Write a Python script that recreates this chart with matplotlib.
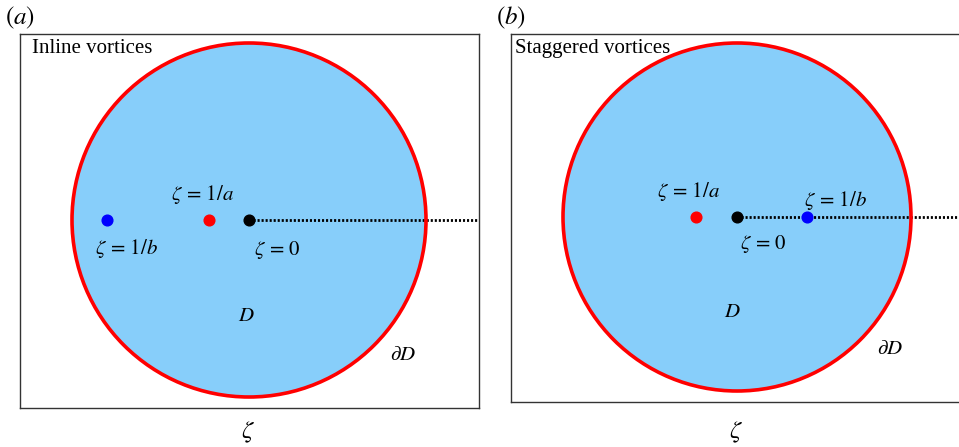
import numpy as np
import matplotlib.pyplot as plt
from matplotlib.patches import Circle

plt.rcParams['mathtext.fontset'] = 'stix'
plt.rcParams['font.family'] = ['Liberation Serif', 'DejaVu Serif']

W, H = 959, 447

# vortex positions on the real axis of the zeta-plane (unit disc)
inline_a = -0.226
inline_b = -0.80
staggered_a = -0.236
staggered_b = 0.40
origin = 0.0

titles = ["Inline vortices", "Staggered vortices"]
panel_tags = ["$(a)$", "$(b)$"]


def add_panel(fig, box, centre, radius, tag, title, title_x, pt_a, pt_b, labels):
    """Draw one zeta-plane panel; box = (left, top, right, bottom) in pixels."""
    l, t, r, b = box
    ax = fig.add_axes([l / W, 1 - b / H, (r - l) / W, (b - t) / H])
    cx, cy = centre
    ax.set_xlim((l - cx) / radius, (r - cx) / radius)
    ax.set_ylim(-(b - cy) / radius, (cy - t) / radius)
    ax.set_aspect('equal')
    ax.set_xticks([])
    ax.set_yticks([])
    for s in ax.spines.values():
        s.set_color('#333333')
        s.set_linewidth(1.0)

    ax.add_patch(Circle((0, 0), 1.0, facecolor='#87cefa', edgecolor='none', zorder=1))
    ax.add_patch(Circle((0, 0), 1.0, facecolor='none', edgecolor='#ff0000', lw=2.6, zorder=4))

    # branch cut along the positive real axis
    ax.plot([origin, 5], [0, 0], color='black', ls=(0, (0.75, 0.7)), lw=2.0, zorder=3)

    ax.plot(pt_b, 0, 'o', color='#0000ff', ms=7.7, zorder=5)
    ax.plot(pt_a, 0, 'o', color='#ff0000', ms=7.7, zorder=5)
    ax.plot(origin, 0, 'o', color='black', ms=7.7, zorder=5)

    for (x, y), s in labels:
        ax.text(x, y, s, fontsize=15, ha='center', va='center', zorder=6)

    fig.text(title_x / W, 1 - 53 / H, title, fontsize=15,
             ha='left', va='baseline', zorder=6)
    fig.text((l - 15) / W, 1 - 18 / H, tag, fontsize=18, ha='left', va='center')
    fig.text((cx - 1) / W, 1 - 432 / H, r'$\zeta$', fontsize=18, ha='center', va='center')


fig = plt.figure(figsize=(W / 100, H / 100), dpi=100)

add_panel(fig, (20, 34, 479, 408), (249, 220), 177, panel_tags[0], titles[0], 32,
          inline_a, inline_b,
          [((-0.26, 0.142), r'$\zeta\,=\,1/a$'),
           ((-0.69, -0.163), r'$\zeta\,=\,1/b$'),
           ((0.158, -0.171), r'$\zeta\,=\,0$'),
           ((-0.015, -0.548), r'$D$'),
           ((0.871, -0.763), r'$\partial D$')])

add_panel(fig, (511, 34, 966, 402), (737, 217), 174, panel_tags[1], titles[1], 515,
          staggered_a, staggered_b,
          [((-0.276, 0.147), r'$\zeta\,=\,1/a$'),
           ((0.565, 0.093), r'$\zeta\,=\,1/b$'),
           ((0.152, -0.156), r'$\zeta\,=\,0$'),
           ((-0.026, -0.547), r'$D$'),
           ((0.88, -0.76), r'$\partial D$')])

fig.savefig('out.png', dpi=100)
